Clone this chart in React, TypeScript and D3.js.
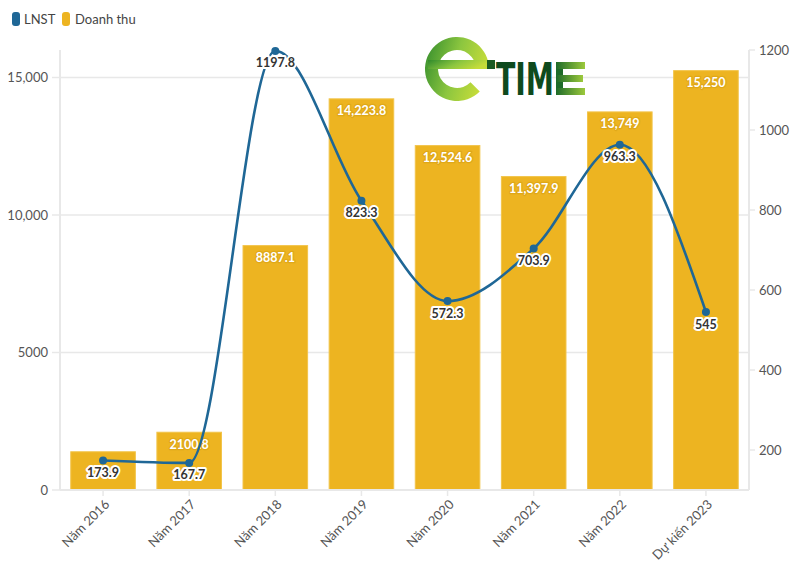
import React from "react";
import * as d3 from "d3";

const categories = ["Năm 2016", "Năm 2017", "Năm 2018", "Năm 2019", "Năm 2020", "Năm 2021", "Năm 2022", "Dự kiến 2023"];
const revenue = [1390, 2100.8, 8887.1, 14223.8, 12524.6, 11397.9, 13749, 15250];
const profit = [173.9, 167.7, 1197.8, 823.3, 572.3, 703.9, 963.3, 545];
const leftTicks = [0, 5000, 10000, 15000];
const rightTicks = [200, 400, 600, 800, 1000, 1200];

const W = 796, H = 575;
const left = 60, right = 749, top = 50, bottom = 490;
const BAR = "#edb421";
const LINE = "#1f6796";
const FONT = "Lato, 'Open Sans', sans-serif";

const fmt = (v: number) => (Math.abs(v) >= 10000 ? d3.format(",")(v) : String(v));

export default function App() {
  const x = d3.scaleBand<string>().domain(categories).range([left, right]).paddingInner(0.25).paddingOuter(0.125);
  const yL = d3.scaleLinear().domain([0, 16000]).range([bottom, top]);
  const yR = d3.scaleLinear().domain([100, 1200]).range([bottom, top]);
  const cx = (c: string) => (x(c) as number) + x.bandwidth() / 2;

  const line = d3
    .line<number>()
    .x((_, i) => cx(categories[i]))
    .y((d) => yR(d))
    .curve(d3.curveMonotoneX);

  const arcGen = d3.arc();
  const eArc = arcGen({ innerRadius: 19, outerRadius: 32, startAngle: 2.35, endAngle: Math.PI * 2 + Math.PI / 2 }) as string;

  return (
    <div style={{ position: "absolute", left: 0, top: 0 }}>
      <svg width={W} height={H} style={{ display: "block", fontFamily: FONT }}>
        <defs>
          <linearGradient id="eg" x1="0" y1="0" x2="1" y2="0.3">
            <stop offset="0" stopColor="#2f8a2c" />
            <stop offset="0.55" stopColor="#8cc63f" />
            <stop offset="1" stopColor="#c5dc3a" />
          </linearGradient>
          <linearGradient id="Eg" x1="0" y1="0" x2="1" y2="0">
            <stop offset="0" stopColor="#1e6b2a" />
            <stop offset="1" stopColor="#9cc93c" />
          </linearGradient>
        </defs>

        {/* legend */}
        <rect x={12} y={12} width={8} height={14} rx={3} fill={LINE} />
        <text x={24} y={24} fontSize={13} fill="#444">LNST</text>
        <rect x={62} y={12} width={8} height={14} rx={3} fill={BAR} />
        <text x={75} y={24} fontSize={13} fill="#444">Doanh thu</text>

        {/* gridlines */}
        {leftTicks.filter((t) => t > 0).map((t) => (
          <line key={t} x1={left} x2={right} y1={yL(t)} y2={yL(t)} stroke="#e8e8e8" strokeWidth={1.5} />
        ))}

        {/* logo */}
        <g>
          <path d={eArc} transform="translate(457,69)" fill="url(#eg)" />
          <rect x={428} y={60} width={60} height={9} fill="url(#eg)" />
          <rect x={487} y={60} width={8} height={9} fill="#1a5a22" />
          <text x={496} y={95} fontSize={44} fontWeight={900} fill="#0e4a1d" fontFamily="'DejaVu Sans', sans-serif" textLength={58} lengthAdjust="spacingAndGlyphs">TIM</text>
          <rect x={556} y={62} width={7} height={33} fill="#1e6b2a" />
          <rect x={556} y={62} width={29} height={7} fill="url(#Eg)" />
          <rect x={556} y={75} width={27} height={7} fill="url(#Eg)" />
          <rect x={556} y={88} width={29} height={7} fill="url(#Eg)" />
        </g>

        {/* bars */}
        {revenue.map((v, i) => (
          <rect key={i} x={x(categories[i])} y={yL(v)} width={x.bandwidth()} height={bottom - yL(v)} fill={BAR} stroke="#f2c44a" strokeWidth={1} />
        ))}

        {/* axes */}
        <line x1={left} x2={left} y1={top} y2={bottom} stroke="#e8e8e8" strokeWidth={2} />
        <line x1={right} x2={right} y1={top} y2={bottom} stroke="#e8e8e8" strokeWidth={2} />
        <line x1={left} x2={right} y1={bottom} y2={bottom} stroke="#e8e8e8" strokeWidth={2} />
        {leftTicks.map((t) => (
          <g key={t}>
            <line x1={52} x2={left} y1={yL(t)} y2={yL(t)} stroke="#e8e8e8" strokeWidth={1.5} />
            <text x={48} y={yL(t) + 4.5} fontSize={13} fill="#555" textAnchor="end">{fmt(t)}</text>
          </g>
        ))}
        {rightTicks.map((t) => (
          <g key={t}>
            <line x1={right} x2={right + 6} y1={yR(t)} y2={yR(t)} stroke="#e8e8e8" strokeWidth={1.5} />
            <text x={759} y={yR(t) + 4.5} fontSize={13} fill="#555">{t}</text>
          </g>
        ))}
        {categories.map((c) => (
          <g key={c}>
            <line x1={cx(c)} x2={cx(c)} y1={bottom} y2={bottom + 6} stroke="#e8e8e8" strokeWidth={1.5} />
            <text transform={`translate(${cx(c) + 4},${bottom + 12}) rotate(-45)`} fontSize={13} fill="#555" textAnchor="end" dy="0.35em">{c}</text>
          </g>
        ))}

        {/* bar labels */}
        {revenue.map((v, i) =>
          bottom - yL(v) > 45 ? (
            <text key={i} x={cx(categories[i])} y={yL(v) + 16.5} fontSize={12.5} fontWeight={700} fill="#fff" textAnchor="middle" stroke="#e0a818" strokeWidth={2.5} paintOrder="stroke" strokeLinejoin="round">{fmt(v)}</text>
          ) : null
        )}

        {/* line */}
        <path d={line(profit) as string} fill="none" stroke={LINE} strokeWidth={2.6} />
        {profit.map((v, i) => (
          <circle key={i} cx={cx(categories[i])} cy={yR(v)} r={4} fill={LINE} />
        ))}
        {profit.map((v, i) => (
          <text key={i} x={cx(categories[i])} y={yR(v) + 16.5} fontSize={12.5} fontWeight={700} fill="#333" textAnchor="middle" stroke="#fff" strokeWidth={4} paintOrder="stroke" strokeLinejoin="round">{String(v)}</text>
        ))}
      </svg>
    </div>
  );
}
